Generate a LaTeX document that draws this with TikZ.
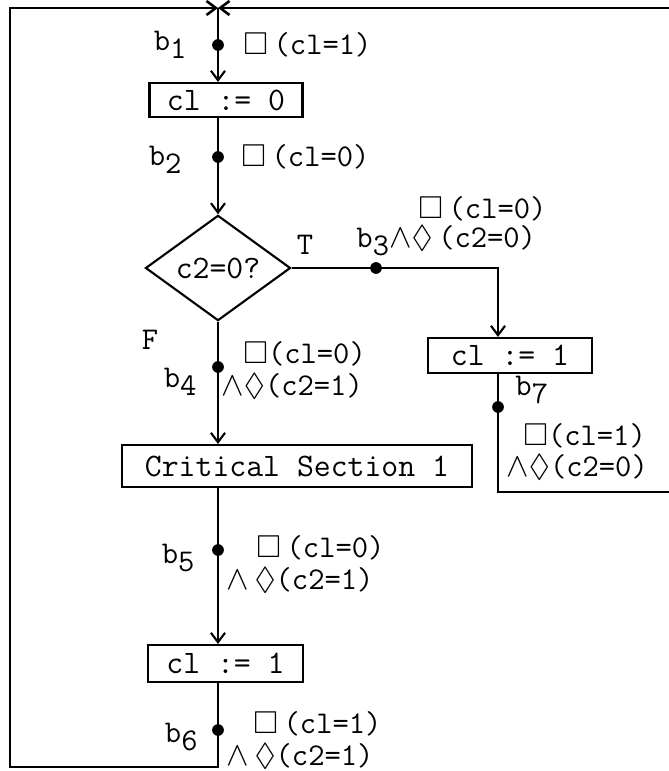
\documentclass[tikz,border=0pt]{standalone}
\usepackage{amssymb}
\usetikzlibrary{arrows.meta, shapes.geometric, positioning}

\tikzset{
  tt/.style={font=\ttfamily\fontsize{14}{16}\selectfont},
  flowbox/.style={draw, tt, line width=0.9pt, inner sep=0pt},
  decision/.style={draw, diamond, tt, line width=0.9pt, inner sep=0pt,
    minimum width=2.175cm, minimum height=1.56cm},
  flow/.style={line width=0.9pt, -{Straight Barb[length=4pt,width=6pt]}},
  loop/.style={line width=1.1pt, -{Straight Barb[length=4pt,width=6pt]}},
  pt/.style={circle, fill, inner sep=0pt, minimum size=5pt},
  lbl/.style={font=\ttfamily\fontsize{13.5}{15}\selectfont, inner sep=0pt},
}
\newcommand{\bsub}[1]{b\raisebox{-0.6ex}{#1}}

\begin{document}
\begin{tikzpicture}[x=0.015cm, y=-0.015cm]
    \useasboundingbox (0,0) rectangle (669,771);

    % boxes of the flow chart
    \node[flowbox, minimum width=2.295cm, minimum height=0.51cm] (clzero) at (226,100) {cl := 0};
    \node[decision] (test) at (218,268) {c2=0?};
    \node[flowbox, minimum width=2.46cm, minimum height=0.525cm] (clone) at (510,355.5) {cl := 1};
    \node[flowbox, minimum width=5.25cm, minimum height=0.63cm] (crit) at (297,466) {Critical Section 1};
    \node[flowbox, minimum width=2.325cm, minimum height=0.555cm] (cloneb) at (225.5,663.5) {cl := 1};

    % corners of the two loops
    \coordinate (join) at (218,8);
    \coordinate (lefttop) at (10,8);
    \coordinate (leftbot) at (10,767);
    \coordinate (rcol) at (498,268);
    \coordinate (rightbot) at (676,492);
    \coordinate (righttop) at (676,8);

    % main column
    \draw[flow] (join) -- (clzero.north -| join);
    \draw[flow] (clzero.south -| join) -- (test.north);
    \draw[flow] (test.south) -- (crit.north -| test.south);
    \draw[flow] (crit.south -| join) -- (cloneb.north -| join);
    \draw[loop] (cloneb.south -| join) -- (join |- leftbot) -- (leftbot) -- (lefttop) -- (join);

    % true branch
    \draw[flow] (test.east) -- (rcol) -- (clone.north -| rcol);
    \draw[loop] (clone.south -| rcol) -- (rcol |- rightbot) -- (rightbot) -- (righttop) -- (join);

    % points b1 ... b7
    \node[pt] (b1) at (218,45) {};
    \node[pt] (b2) at (218,157) {};
    \node[pt] (b3) at (376,268) {};
    \node[pt] (b4) at (218,367) {};
    \node[pt] (b5) at (218,550) {};
    \node[pt] (b6) at (218,730) {};
    \node[pt] (b7) at (498,407) {};

    % names and assertions
    \node[lbl, anchor=east] (b1name) at (187,45) {\bsub{1}};
    \node[lbl, anchor=west] (b1inv) at (243,45) {$\Box\,$(cl=1)};
    \node[lbl, anchor=east] (b2name) at (182,160) {\bsub{2}};
    \node[lbl, anchor=west] (b2inv) at (241,157) {$\Box\,$(cl=0)};
    \node[lbl] (tlabel) at (305,245) {T};
    \node[lbl, anchor=west] (b3inv) at (418,209) {$\Box\,$(cl=0)};
    \node[lbl, anchor=west] (b3name) at (356,241) {\bsub{3}$\wedge\Diamond\,$(c2=0)};
    \node[lbl] (flabel) at (150,340) {F};
    \node[lbl, anchor=east] (b4name) at (197,382) {\bsub{4}};
    \node[lbl, anchor=west] (b4inv) at (243,354) {$\Box$(cl=0)};
    \node[lbl, anchor=west] (b4live) at (221,386) {$\wedge\Diamond$(c2=1)};
    \node[lbl, anchor=west] (b7name) at (515,390) {\bsub{7}};
    \node[lbl, anchor=west] (b7inv) at (523,436) {$\Box$(cl=1)};
    \node[lbl, anchor=west] (b7live) at (506,467) {$\wedge\Diamond$(c2=0)};
    \node[lbl, anchor=east] (b5name) at (195,558) {\bsub{5}};
    \node[lbl, anchor=west] (b5inv) at (256,548) {$\Box\,$(cl=0)};
    \node[lbl, anchor=west] (b5live) at (226,580) {$\wedge\,\Diamond$(c2=1)};
    \node[lbl, anchor=east] (b6name) at (198,737) {\bsub{6}};
    \node[lbl, anchor=west] (b6inv) at (253,724) {$\Box\,$(cl=1)};
    \node[lbl, anchor=west] (b6live) at (226,756) {$\wedge\,\Diamond$(c2=1)};
\end{tikzpicture}
\end{document}
